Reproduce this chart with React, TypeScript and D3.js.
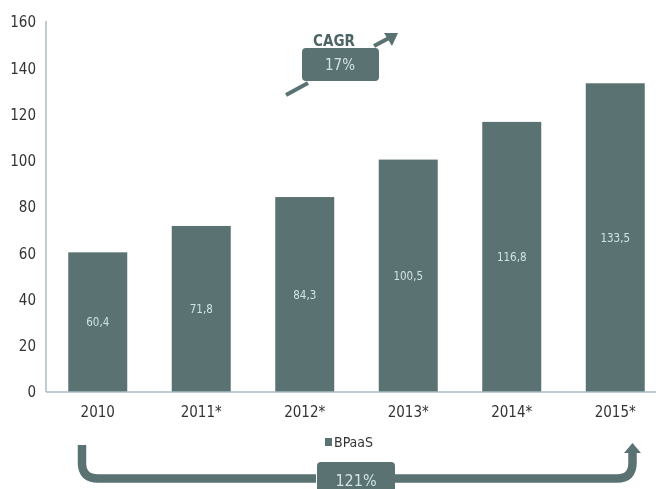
import React, { useEffect, useRef } from 'react';
import * as d3 from 'd3';

const years = ['2010', '2011*', '2012*', '2013*', '2014*', '2015*'];
const values = [60.4, 71.8, 84.3, 100.5, 116.8, 133.5];
const valueLabels = ['60,4', '71,8', '84,3', '100,5', '116,8', '133,5'];
const yTicks = [0, 20, 40, 60, 80, 100, 120, 140, 160];
const seriesName = 'BPaaS';
const cagrLabel = 'CAGR';
const cagrValue = '17%';
const totalGrowth = '121%';

const BAR = '#5a7271';
const LIGHT = '#cfe3e2';
const FONT = '"DejaVu Sans Condensed", "Liberation Sans", sans-serif';

const App = () => {
  const ref = useRef(null);

  useEffect(() => {
    if (!ref.current) return;
    d3.select(ref.current).selectAll('*').remove();

    const svg = d3.select(ref.current)
      .append('svg')
      .attr('width', 656)
      .attr('height', 489)
      .style('display', 'block')
      .style('font-family', FONT);

    const x = d3.scaleBand()
      .domain(years)
      .range([46, 667])
      .paddingInner(0.43)
      .paddingOuter(0.215);

    const y = d3.scaleLinear()
      .domain([0, 160])
      .range([392, 22]);

    // y tick labels
    svg.append('g')
      .selectAll('text')
      .data(yTicks)
      .enter()
      .append('text')
      .attr('x', 36)
      .attr('y', d => y(d))
      .attr('dy', '0.35em')
      .attr('text-anchor', 'end')
      .style('font-size', '15px')
      .style('fill', '#333')
      .text(d => d);

    // bars
    svg.append('g')
      .selectAll('rect')
      .data(values)
      .enter()
      .append('rect')
      .attr('x', (d, i) => x(years[i]))
      .attr('y', d => y(d))
      .attr('width', x.bandwidth())
      .attr('height', d => y(0) - y(d))
      .style('fill', BAR);

    // value labels in the middle of each bar
    svg.append('g')
      .selectAll('text')
      .data(values)
      .enter()
      .append('text')
      .attr('x', (d, i) => x(years[i]) + x.bandwidth() / 2)
      .attr('y', d => (y(d) + y(0)) / 2)
      .attr('dy', '0.35em')
      .attr('text-anchor', 'middle')
      .style('font-size', '11.5px')
      .style('fill', LIGHT)
      .text((d, i) => valueLabels[i]);

    // axis lines
    svg.append('line')
      .attr('x1', 46).attr('x2', 46)
      .attr('y1', y(160) - 1).attr('y2', y(0))
      .style('stroke', '#a9bcc3').style('stroke-width', 1.5);
    svg.append('line')
      .attr('x1', 46).attr('x2', 656)
      .attr('y1', y(0)).attr('y2', y(0))
      .style('stroke', '#a9bcc3').style('stroke-width', 1.5);

    // x tick labels
    svg.append('g')
      .selectAll('text')
      .data(years)
      .enter()
      .append('text')
      .attr('x', d => x(d) + x.bandwidth() / 2)
      .attr('y', 412)
      .attr('dy', '0.35em')
      .attr('text-anchor', 'middle')
      .style('font-size', '15px')
      .style('fill', '#333')
      .text(d => d);

    // legend
    svg.append('rect')
      .attr('x', 325).attr('y', 438)
      .attr('width', 7).attr('height', 8)
      .style('fill', BAR);
    svg.append('text')
      .attr('x', 334).attr('y', 442)
      .attr('dy', '0.35em')
      .style('font-size', '14px')
      .style('fill', '#333')
      .text(seriesName);

    // CAGR annotation
    svg.append('line')
      .attr('x1', 286).attr('y1', 95).attr('x2', 308).attr('y2', 83)
      .style('stroke', BAR).style('stroke-width', 4);
    svg.append('line')
      .attr('x1', 374).attr('y1', 46).attr('x2', 389).attr('y2', 38)
      .style('stroke', BAR).style('stroke-width', 4);
    svg.append('polygon')
      .attr('points', '398,33 384,33 392,46')
      .style('fill', BAR);
    svg.append('text')
      .attr('x', 334).attr('y', 41)
      .attr('dy', '0.35em')
      .attr('text-anchor', 'middle')
      .style('font-size', '15px')
      .style('font-weight', 'bold')
      .style('fill', '#4e6464')
      .text(cagrLabel);
    svg.append('rect')
      .attr('x', 302).attr('y', 48)
      .attr('width', 77).attr('height', 33)
      .attr('rx', 4)
      .style('fill', BAR);
    svg.append('text')
      .attr('x', 340).attr('y', 65)
      .attr('dy', '0.35em')
      .attr('text-anchor', 'middle')
      .style('font-size', '15px')
      .style('fill', LIGHT)
      .text(cagrValue);

    // bottom growth arrow
    svg.append('path')
      .attr('d', 'M82,445 V463 Q82,478.5 98,478.5 H316')
      .style('fill', 'none').style('stroke', BAR).style('stroke-width', 8.5);
    svg.append('path')
      .attr('d', 'M393,478.5 H617 Q632.5,478.5 632.5,463 V452')
      .style('fill', 'none').style('stroke', BAR).style('stroke-width', 8.5);
    svg.append('polygon')
      .attr('points', '624,453 641,453 632.5,443')
      .style('fill', BAR);
    svg.append('rect')
      .attr('x', 317).attr('y', 462)
      .attr('width', 78).attr('height', 40)
      .attr('rx', 4)
      .style('fill', BAR);
    svg.append('text')
      .attr('x', 356).attr('y', 480)
      .attr('dy', '0.35em')
      .attr('text-anchor', 'middle')
      .style('font-size', '16px')
      .style('fill', LIGHT)
      .text(totalGrowth);
  }, []);

  return <div ref={ref} style={{ position: 'fixed', left: 0, top: 0 }} />;
};

export default App;
